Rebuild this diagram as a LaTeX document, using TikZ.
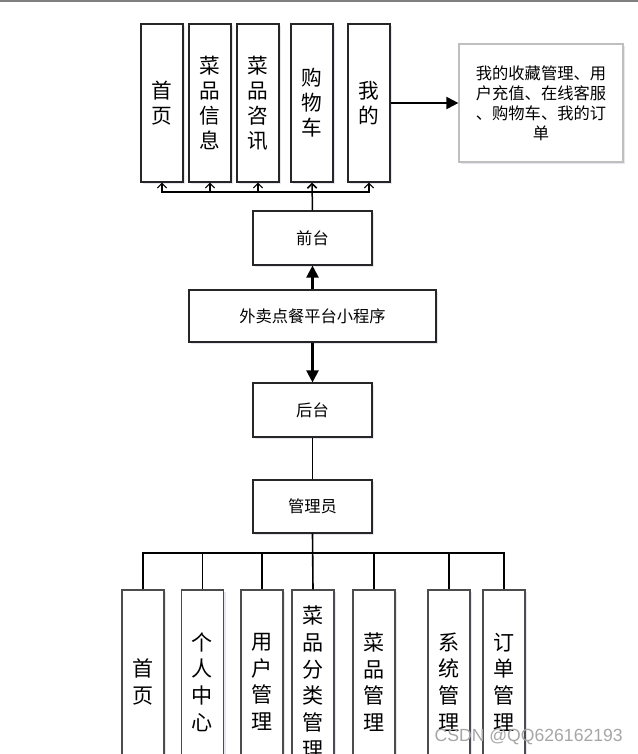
\documentclass[tikz,border=0pt]{standalone}
\usepackage{fontspec}
\newfontfamily\cjk{Noto Sans CJK SC}
\newfontfamily\wmfont{Liberation Sans}
\usetikzlibrary{arrows.meta,shadows}
\newdimen\pu \pu=0.75pt
\begin{document}
\begin{tikzpicture}[x=0.75pt,y=-0.75pt,
  box/.style={draw=black!85, line width=1.1\pu, fill=white, inner sep=0pt, align=center,
    drop shadow={shadow xshift=2\pu, shadow yshift=-2\pu, fill=blue!25!gray!30, opacity=0.5},
    font=\cjk\fontsize{12.2}{15}\selectfont},
  midbox/.style={box, minimum width=119\pu, minimum height=54\pu},
  tall/.style={box, minimum width=42\pu, minimum height=158\pu, font=\cjk\fontsize{15.5}{18.8}\selectfont},
  low/.style={box, draw=black!70, line width=1.4\pu, minimum width=42\pu, minimum height=184\pu, font=\cjk\fontsize{15.8}{20}\selectfont},
  note/.style={box, draw=black!25, line width=1.2\pu, minimum width=164\pu, minimum height=118\pu},
  wire/.style={draw=black, line width=1.3\pu},
  tick/.style={wire, line width=1.1\pu, -{Straight Barb[length=3.5pt,width=7pt]}},
  bigarrow/.style={draw=black, line width=1.6pt, -{Triangle[length=9pt,width=9pt]}}
]
\useasboundingbox (0,0) rectangle (638,754);
\clip (0,0) rectangle (638,754);
\fill[white] (0,0) rectangle (638,754);
\draw[gray, line width=1.6\pu] (0,0.8) -- (638,0.8);

% top row
\node[tall] (t1) at (162,103) {首\\页};
\node[tall] (t2) at (210,103) {菜\\品\\信\\息};
\node[tall] (t3) at (258,103) {菜\\品\\咨\\讯};
\node[tall] (t4) at (312,103) {购\\物\\车};
\node[tall] (t5) at (369,103) {我\\的};
\node[note] (rb) at (541,103) {我的收藏管理、用\\户充值、在线客服\\、购物车、我的订\\单};

\node[midbox] (qt) at (312.5,238) {前台};
\node[box, minimum width=247\pu, minimum height=52\pu] (app) at (312.5,316) {外卖点餐平台小程序};
\node[midbox] (ht) at (312.5,410) {后台};
\node[midbox, minimum height=53\pu] (gly) at (312.5,506.5) {管理员};

% bottom row
\node[low] (b1) at (143,682) {首\\页};
\node[low] (b2) at (202.5,682) {个\\人\\中\\心};
\node[low] (b3) at (262,682) {用\\户\\管\\理};
\node[low] (b4) at (313,682) {菜\\品\\分\\类\\管\\理};
\node[low] (b5) at (374,682) {菜\\品\\管\\理};
\node[low] (b6) at (449,682) {系\\统\\管\\理};
\node[low] (b7) at (504,682) {订\\单\\管\\理};

\coordinate (topbus) at (0,192);
\coordinate (lowbus) at (0,553);

% top connectors
\draw[tick] (qt.north) -- (qt.north |- topbus) -| (t1.south);
\draw[tick] (qt.north) -- (qt.north |- topbus) -| (t2.south);
\draw[tick] (qt.north) -- (qt.north |- topbus) -| (t3.south);
\draw[tick, line width=1.5\pu] (qt.north) -- (t4.south);
\draw[tick] (qt.north) -- (qt.north |- topbus) -| (t5.south);

\draw[bigarrow] (t5.east) -- (rb.west);
\draw[bigarrow] (app.north) -- (qt.south);
\draw[bigarrow] (app.south) -- (ht.north);
\draw[wire] (ht.south) -- (gly.north);

% bottom connectors
\foreach \b in {b1,b2,b3,b5,b6,b7}{
  \draw[wire] (gly.south) -- (gly.south |- lowbus) -| (\b.north);
}
\draw[wire, line width=1.6\pu] (gly.south) -- (b4.north);

\node[anchor=east, font=\wmfont\fontsize{13.2}{15}\selectfont, text=black!35, inner sep=0pt] (wm) at (623,737) {CSDN @QQ626162193};
\end{tikzpicture}
\end{document}
